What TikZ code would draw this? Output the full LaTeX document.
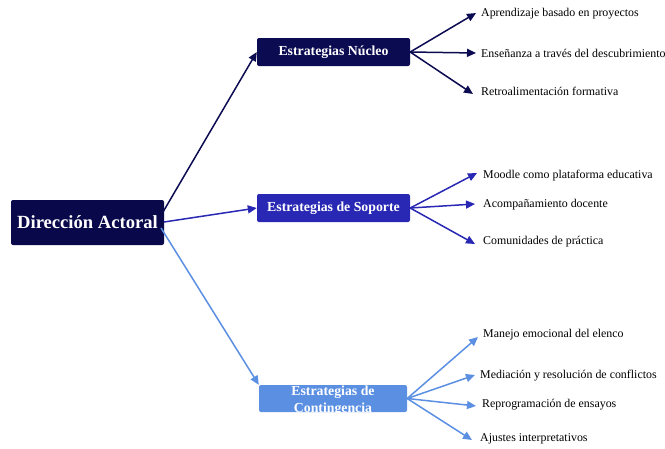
\documentclass[tikz,border=0pt]{standalone}
\usepackage{fontspec}
\setmainfont{Liberation Serif}
\usetikzlibrary{arrows.meta}
\definecolor{cnavy}{HTML}{0B0B52}
\definecolor{croot}{HTML}{08084A}
\definecolor{cmid}{HTML}{2828B4}
\definecolor{clight}{HTML}{5B8FE2}
\tikzset{
  x=1pt,y=-1pt,
  box/.style={rounded corners=2pt, inner sep=0pt, text=white, font=\bfseries\fontsize{13.8}{16}\selectfont, align=center},
  leaf/.style={anchor=west, inner sep=0pt, font=\fontsize{11.9}{13}\selectfont},
  conn/.style={line width=1.5pt, -{Triangle[length=9pt,width=8pt]}},
}
\begin{document}
\begin{tikzpicture}
\useasboundingbox (0,0) rectangle (665,448);
% root
\node[box, fill=croot, minimum width=153pt, minimum height=45pt, font=\bfseries\fontsize{18.6}{20}\selectfont] (root) at (87.5,222.5) {Dirección Actoral};
% level 1
\node[box, fill=cnavy, minimum width=153pt, minimum height=28pt] (nuc) at (333.5,52) {Estrategias Núcleo};
\node[box, fill=cmid, minimum width=153pt, minimum height=28pt] (sop) at (333.5,208) {Estrategias de Soporte};
\node[box, fill=clight, minimum width=148pt, minimum height=27pt] (con) at (333,398.5) {};
\begin{scope}
\clip[rounded corners=2pt] (con.south west) rectangle (con.north east);
\node[box, font=\bfseries\fontsize{13.8}{17}\selectfont] (contxt) at (333,400.5) {Estrategias de\\Contingencia};
\end{scope}
% anchor points on root
\coordinate (r1) at (163,212);
\coordinate (r2) at (164,222);
\coordinate (r3) at (161,228);
\draw[conn, cnavy] (r1) -- (nuc.west);
\draw[conn, cmid] (r2) -- (sop.west);
\draw[conn, clight] (r3) -- (con.north west);
% leaves nucleo
\node[leaf] (n1) at (481,14) {Aprendizaje basado en proyectos};
\node[leaf] (n2) at (481,53) {Enseñanza a través del descubrimiento};
\node[leaf] (n3) at (481,91) {Retroalimentación formativa};
\draw[conn, cnavy] (nuc.east) -- ([xshift=-5pt,yshift=1pt]n1.west);
\draw[conn, cnavy] (nuc.east) -- ([xshift=-5pt]n2.west);
\draw[conn, cnavy] (nuc.east) -- ([xshift=-8pt,yshift=-3pt]n3.west);
% leaves soporte
\node[leaf] (s1) at (483,176) {Moodle como plataforma educativa};
\node[leaf] (s2) at (483,205) {Acompañamiento docente};
\node[leaf] (s3) at (483,242) {Comunidades de práctica};
\draw[conn, cmid] (sop.east) -- ([xshift=-6pt,yshift=3pt]s1.west);
\draw[conn, cmid] (sop.east) -- ([xshift=-8pt,yshift=1pt]s2.west);
\draw[conn, cmid] (sop.east) -- ([xshift=-8pt,yshift=-2pt]s3.west);
% leaves contingencia
\node[leaf] (c1) at (483,335) {Manejo emocional del elenco};
\node[leaf] (c2) at (480,376) {Mediación y resolución de conflictos};
\node[leaf] (c3) at (482,405) {Reprogramación de ensayos};
\node[leaf] (c4) at (480,439) {Ajustes interpretativos};
\draw[conn, clight] (con.east) -- ([xshift=-5pt,yshift=-2pt]c1.west);
\draw[conn, clight] (con.east) -- ([xshift=-5pt,yshift=1pt]c2.west);
\draw[conn, clight] (con.east) -- ([xshift=-6pt,yshift=-1pt]c3.west);
\draw[conn, clight] (con.east) -- ([xshift=-8pt,yshift=-1pt]c4.west);
\end{tikzpicture}
\end{document}
